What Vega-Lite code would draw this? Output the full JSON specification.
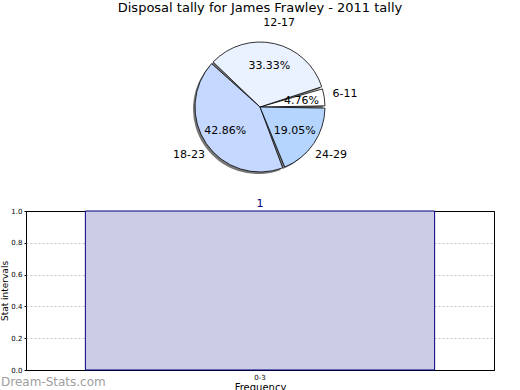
{
  "$schema": "https://vega.github.io/schema/vega-lite/v6.json",
  "padding": {"left": 0, "top": 2, "right": 0, "bottom": 0},
  "spacing": 10,
  "config": {
    "font": "DejaVu Sans",
    "view": {"stroke": null}
  },
  "datasets": {
    "slices": [
      {"range": "6-11", "lo": 6, "count": 1, "pct": "4.76%"},
      {"range": "12-17", "lo": 12, "count": 7, "pct": "33.33%"},
      {"range": "18-23", "lo": 18, "count": 9, "pct": "42.86%"},
      {"range": "24-29", "lo": 24, "count": 4, "pct": "19.05%"}
    ],
    "bars": [
      {"interval": "0-3", "value": 1}
    ]
  },
  "vconcat": [
    {
      "title": {"text": "Disposal tally for James Frawley - 2011 tally", "fontSize": 13, "fontWeight": "normal", "anchor": "middle", "offset": 2, "color": "#000"},
      "width": 468,
      "height": 160,
      "data": {"name": "slices"},
      "encoding": {
        "theta": {"field": "count", "type": "quantitative", "stack": true, "scale": {"range": [1.5708, -4.7124]}},
        "order": {"field": "lo", "type": "quantitative"}
      },
      "layer": [
        {
          "mark": {"type": "arc", "radius": 65, "padAngle": 0.035, "fill": "#777", "xOffset": -2, "yOffset": 2}
        },
        {
          "mark": {"type": "arc", "radius": 65, "padAngle": 0.035, "stroke": "#000", "strokeWidth": 0.8},
          "encoding": {
            "color": {"field": "range", "type": "nominal", "legend": null,
              "scale": {"domain": ["6-11", "12-17", "18-23", "24-29"], "range": ["#ffffff", "#ebf2ff", "#c5d8ff", "#b5d5ff"]}}
          }
        },
        {
          "mark": {"type": "text", "radius": 42, "fontSize": 11, "color": "#000"},
          "encoding": {"text": {"field": "pct"}}
        },
        {
          "mark": {"type": "text", "radius": 86, "fontSize": 11, "color": "#000"},
          "encoding": {"text": {"field": "range"}}
        }
      ]
    },
    {
      "title": {"text": "Dream-Stats.com", "orient": "bottom", "anchor": "start", "frame": "group", "offset": 0, "dy": -15, "dx": -25, "fontSize": 12, "fontWeight": "normal", "color": "#a0a0a0"},
      "width": 468,
      "height": 159,
      "view": {"stroke": "#000", "strokeWidth": 1},
      "data": {"name": "bars"},
      "encoding": {
        "x": {"field": "interval", "type": "nominal", "title": "Frequency",
          "scale": {"paddingInner": 0, "paddingOuter": 0.17},
          "axis": {"labelAngle": 0, "labelFontSize": 7, "labelColor": "#000", "titleFontSize": 10, "titleFontWeight": "normal", "titleColor": "#000", "titlePadding": 2, "domain": false, "ticks": false, "labelPadding": 3, "grid": true, "gridDash": [1, 2], "gridColor": "#999", "gridWidth": 1, "gridOpacity": 1}},
        "y": {"field": "value", "type": "quantitative", "title": "Stat intervals",
          "scale": {"domain": [0, 1], "nice": false},
          "axis": {"values": [0, 0.2, 0.4, 0.6, 0.8, 1.0], "format": ".1f", "labelFontSize": 7, "labelColor": "#000", "titleFontSize": 9, "titleFontWeight": "normal", "titleColor": "#000", "titlePadding": 1, "domain": false, "tickSize": 2, "tickColor": "#000", "labelPadding": 2, "grid": true,
            "gridDash": {"condition": {"test": "datum.value == 0 || datum.value == 1", "value": []}, "value": [2, 2]},
            "gridColor": {"condition": {"test": "datum.value == 0 || datum.value == 1", "value": "#000"}, "value": "#c4c4c4"},
            "gridWidth": 1, "gridOpacity": 1}}
      },
      "layer": [
        {"mark": {"type": "bar", "fill": "#ccccE6", "stroke": "#000080", "strokeWidth": 1}},
        {"mark": {"type": "text", "dy": -7, "fontSize": 11, "color": "#000080"}, "encoding": {"text": {"field": "value"}}}
      ]
    }
  ]
}
